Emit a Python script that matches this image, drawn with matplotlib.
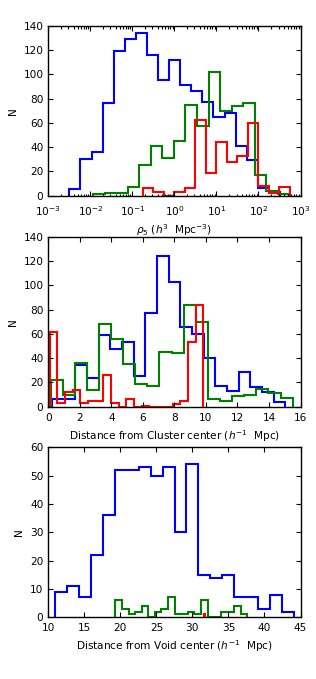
import matplotlib
matplotlib.use("Agg")
import matplotlib.pyplot as plt
import numpy as np
from matplotlib.ticker import NullFormatter


# panel 1: rho_5 histograms, bin ranges given in log10(rho_5)
rho_blue_range = (-2.50, 2.51)
rho_blue = [5, 30, 36, 76, 119, 129, 134, 116, 95, 112, 91, 86, 77, 65, 68, 41, 29, 6, 3]
rho_green_range = (-1.93, 2.73)
rho_green = [1, 2, 2, 7, 25, 41, 31, 45, 75, 57, 102, 70, 74, 76, 17, 4, 1]
rho_red_range = (-0.757, 2.75)
rho_red = [6, 3, 0, 3, 6, 62, 19, 44, 28, 33, 60, 8, 2, 7]
rho_ticks = [1e-3, 1e-2, 1e-1, 1e0, 1e1, 1e2, 1e3]

# panel 2: distance from cluster centre
clu_blue_range = (0.23, 15.03)
clu_blue = [6, 6, 34, 24, 59, 48, 53, 25, 77, 124, 103, 66, 60, 40, 17, 13, 29, 16, 12, 4]
clu_green_range = (0.14, 15.5)
clu_green = [22, 10, 36, 14, 68, 56, 35, 19, 17, 45, 44, 84, 70, 6, 5, 9, 10, 15, 11, 7]
clu_red_range = (0.08, 9.83)
clu_red = [62, 3, 12, 14, 3, 5, 5, 26, 3, 0, 6, 0, 1, 0, 0, 0, 2, 5, 53, 84]

# panel 3: distance from void centre
void_blue_range = (10.9, 44.12)
void_blue = [9, 11, 7, 22, 36, 52, 52, 53, 50, 53, 30, 54, 15, 14, 15, 7, 7, 3, 8, 2]
void_green_range = (19.3, 37.6)
void_green = [6, 3, 1, 2, 4, 0, 2, 3, 7, 1, 1, 2, 1, 6, 0, 0, 2, 2, 4, 1]
void_red_range = (31.6, 31.75)
void_red = [1]

COLORS = {"blue": "#0000ff", "green": "#008000", "red": "#ff0000"}
LW = 1.5
FS = 7.6

plt.rcParams["font.family"] = "DejaVu Sans"
plt.rcParams["font.size"] = FS
plt.rcParams["mathtext.fontset"] = "dejavusans"


def edges(rng, values, log=False):
    e = np.linspace(rng[0], rng[1], len(values) + 1)
    return 10 ** e if log else e


def style_axes(ax, xpad=4.5):
    ax.tick_params(which="both", direction="in", top=True, right=True,
                   labelsize=FS, width=0.8)
    ax.tick_params(axis="y", pad=3.5)
    ax.tick_params(axis="x", pad=xpad)
    ax.tick_params(which="major", length=3.5)
    ax.tick_params(which="minor", length=1.8)
    for s in ax.spines.values():
        s.set_linewidth(1.0)
    ax.set_ylabel("N", fontsize=FS, labelpad=4)


def draw(ax, series, log=False):
    for color, rng, vals in series:
        ax.stairs(vals, edges(rng, vals, log), color=COLORS[color], lw=LW)


fig = plt.figure(figsize=(3.16, 6.79), dpi=100)
ax1 = fig.add_axes([0.153, 0.712, 0.798, 0.250])
ax2 = fig.add_axes([0.153, 0.401, 0.798, 0.250])
ax3 = fig.add_axes([0.153, 0.091, 0.798, 0.250])

draw(ax1, [("blue", rho_blue_range, rho_blue),
           ("green", rho_green_range, rho_green),
           ("red", rho_red_range, rho_red)], log=True)
ax1.set_xscale("log")
ax1.set_xticks(rho_ticks)
ax1.set_xlim(1e-3, 1e3)
ax1.set_ylim(0, 140)
ax1.set_yticks(range(0, 141, 20))
ax1.xaxis.set_minor_formatter(NullFormatter())
ax1.set_xlabel(r"$\rho_5$ ($h^3$  Mpc$^{-3}$)", labelpad=3)
style_axes(ax1, xpad=6)

draw(ax2, [("blue", clu_blue_range, clu_blue),
           ("green", clu_green_range, clu_green),
           ("red", clu_red_range, clu_red)])
ax2.set_xlim(0, 16)
ax2.set_ylim(0, 140)
ax2.set_xticks(range(0, 17, 2))
ax2.set_yticks(range(0, 141, 20))
ax2.set_xlabel(r"Distance from Cluster center ($h^{-1}$  Mpc)", labelpad=3.5)
style_axes(ax2)

draw(ax3, [("blue", void_blue_range, void_blue),
           ("green", void_green_range, void_green),
           ("red", void_red_range, void_red)])
ax3.set_xlim(10, 45)
ax3.set_ylim(0, 60)
ax3.set_xticks(range(10, 46, 5))
ax3.set_yticks(range(0, 61, 10))
ax3.set_xlabel(r"Distance from Void center ($h^{-1}$  Mpc)", labelpad=3.5)
style_axes(ax3)

fig.savefig("out.png", dpi=100)
